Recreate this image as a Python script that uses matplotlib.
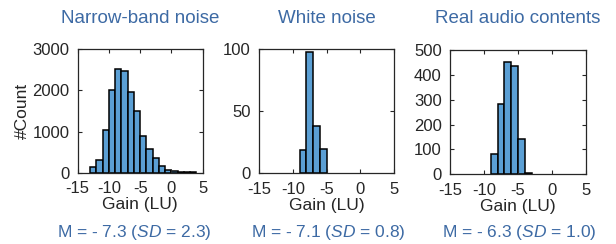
import matplotlib
matplotlib.use("Agg")
import matplotlib.pyplot as plt

plt.rcParams['font.family'] = ['Liberation Sans', 'DejaVu Sans']
plt.rcParams['axes.unicode_minus'] = False
plt.rcParams['mathtext.fontset'] = 'custom'
plt.rcParams['mathtext.rm'] = 'Liberation Sans'
plt.rcParams['mathtext.it'] = 'Liberation Sans:italic'

# ---- data ----
titles = ["Narrow-band noise", "White noise", "Real audio contents"]
summaries = ["M = - 7.3 ($\\mathit{SD}$ = 2.3)", "M = - 7.1 ($\\mathit{SD}$ = 0.8)", "M = - 6.3 ($\\mathit{SD}$ = 1.0)"]

nb_left = [-13, -12, -11, -10, -9, -8, -7, -6, -5, -4, -3, -2, -1, 0, 1, 2, 3]
nb_counts = [130, 300, 1050, 2000, 2520, 2470, 1960, 1500, 890, 568, 355, 165, 60, 32, 18, 10, 5]

wn_left = [-9, -8, -7, -6]
wn_counts = [19, 98, 38, 20]

ra_left = [-9, -8, -7, -6, -5, -4]
ra_counts = [80, 282, 453, 436, 141, 4]

yticks_list = [[0, 1000, 2000, 3000], [0, 50, 100], [0, 100, 200, 300, 400, 500]]
ylims = [3000, 100, 500]
xticks = [-15, -10, -5, 0, 5]

# ---- style ----
W, H = 616, 244
fig = plt.figure(figsize=(W / 100, H / 100), dpi=100)
blue_txt = '#3d6aa4'
bar_col = '#5b9fd4'
dark = '#262626'

# axes boxes in pixels: left, right, top, bottom
boxes = [(77.7, 202.7, 49.3, 172.7), (259.3, 394.0, 49.3, 173.3), (450.0, 586.0, 50.0, 174.3)]
summary_x = [134, 328, 519]
lefts = [nb_left, wn_left, ra_left]
counts = [nb_counts, wn_counts, ra_counts]

for i in range(3):
    l, r, t, b = boxes[i]
    ax = fig.add_axes([l / W, 1 - b / H, (r - l) / W, (b - t) / H])
    ax.bar(lefts[i], counts[i], width=1.0, align='edge', color=bar_col,
           edgecolor='black', linewidth=1.1)
    ax.set_xlim(-15, 5)
    ax.set_ylim(0, ylims[i])
    ax.set_xticks(xticks)
    ax.set_yticks(yticks_list[i])
    ax.tick_params(direction='in', length=3, width=0.8, top=True, right=True,
                   labelsize=12, colors=dark, pad=6)
    for s in ax.spines.values():
        s.set_color(dark)
        s.set_linewidth(0.9)
    ax.set_xlabel("Gain (LU)", fontsize=12.5, color=dark, labelpad=1)
    if i == 0:
        ax.set_ylabel("#Count", fontsize=12.5, color=dark, labelpad=2)
    fig.text((l + r) / 2 / W, 1 - 18.5 / H, titles[i], ha='center', va='center',
             fontsize=13.5, color=blue_txt)
    fig.text(summary_x[i] / W, 1 - 233 / H, summaries[i], ha='center', va='center',
             fontsize=12.5, color=blue_txt)

fig.savefig("out.png", dpi=100)
